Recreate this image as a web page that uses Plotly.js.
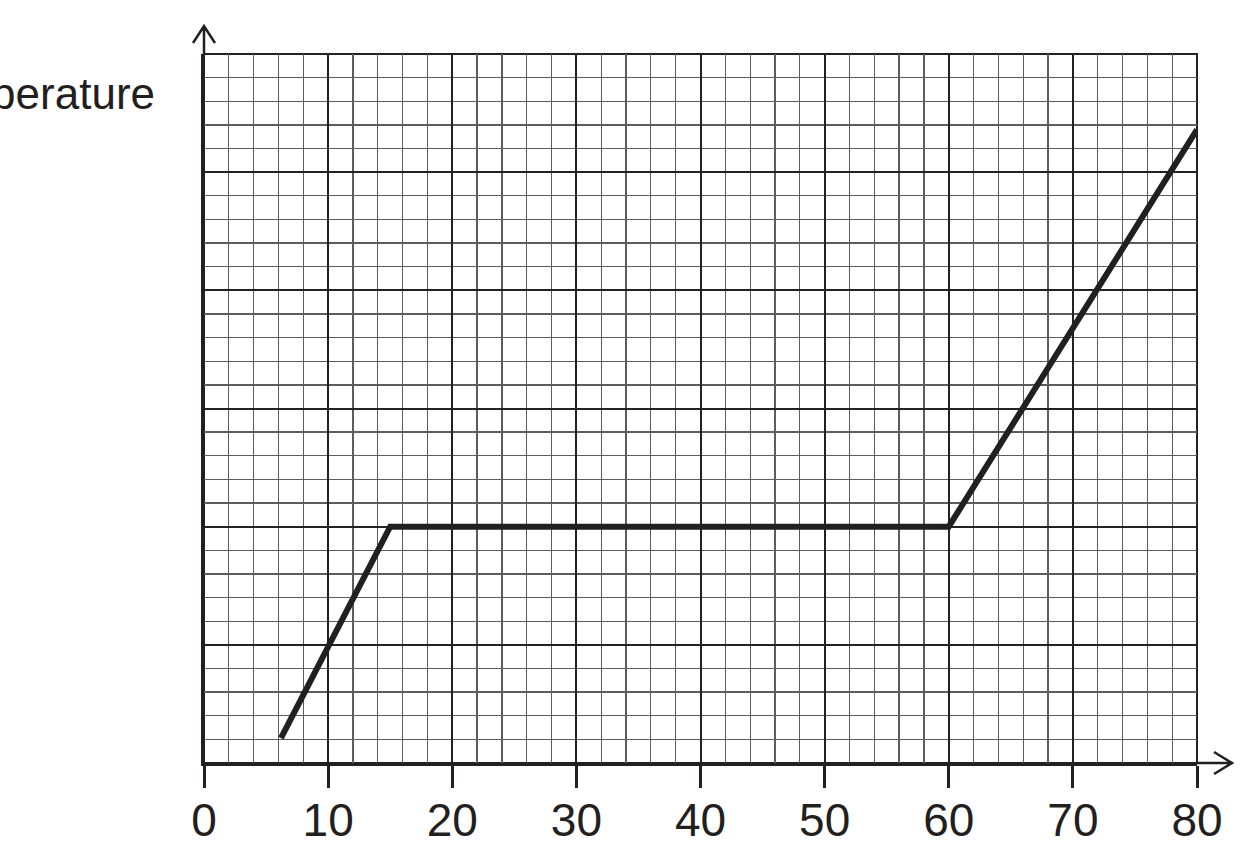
<!DOCTYPE html>
<html>
<head>
<meta charset="utf-8">
<script src="https://cdn.plot.ly/plotly-3.0.1.min.js"></script>
<style>html,body{margin:0;padding:0;background:#fff;}#chart{width:1258px;height:862px;}</style>
</head>
<body>
<div id="chart"></div>
<script>
// Data
const timeValues = [6.2, 15, 60, 80];
const temperatureValues = [1.05, 10, 10, 26.8];
const xTickValues = [0, 10, 20, 30, 40, 50, 60, 70, 80];
const xTickLabels = ["0", "10", "20", "30", "40", "50", "60", "70", "80"];
const yAxisLabel = "Temperature";

const ink = '#231f20';
const fontFamily = '"Liberation Sans", Arial, Helvetica, sans-serif';

const trace = {
  x: timeValues,
  y: temperatureValues,
  mode: 'lines',
  line: {color: ink, width: 6},
  hoverinfo: 'skip',
  showlegend: false
};

const layout = {
  width: 1258,
  height: 862,
  margin: {l: 204, r: 61, t: 54, b: 99, pad: 0},
  paper_bgcolor: '#fff',
  plot_bgcolor: '#fff',
  showlegend: false,
  xaxis: {
    range: [0, 80],
    tickmode: 'array',
    tickvals: xTickValues,
    ticktext: xTickLabels,
    showgrid: true,
    gridcolor: '#222',
    gridwidth: 2,
    minor: {dtick: 2, tick0: 0, showgrid: true, gridcolor: '#5c5c5c', gridwidth: 1.3, ticks: ''},
    ticks: 'outside',
    ticklen: 22,
    tickwidth: 3,
    tickcolor: ink,
    ticklabelstandoff: -7,
    showline: true,
    linewidth: 3,
    linecolor: ink,
    zeroline: false,
    tickfont: {family: fontFamily, size: 46, color: ink},
    fixedrange: true
  },
  yaxis: {
    range: [0, 30],
    dtick: 5,
    tick0: 0,
    showticklabels: false,
    ticks: '',
    showgrid: true,
    gridcolor: '#222',
    gridwidth: 2,
    minor: {dtick: 1, tick0: 0, showgrid: true, gridcolor: '#5c5c5c', gridwidth: 1.3, ticks: ''},
    showline: true,
    linewidth: 3,
    linecolor: ink,
    zeroline: false,
    fixedrange: true
  },
  shapes: [
    {
      type: 'rect', xref: 'paper', yref: 'paper',
      x0: 0, x1: 1, y0: 0, y1: 1,
      line: {color: '#222', width: 2},
      layer: 'below'
    },
    {
      type: 'path', xref: 'paper', yref: 'paper',
      xsizemode: 'pixel', ysizemode: 'pixel', xanchor: 0, yanchor: 1,
      path: 'M0,0 L0,28 M-11,11 L0,28 L11,11',
      line: {color: ink, width: 2.5}
    },
    {
      type: 'path', xref: 'paper', yref: 'paper',
      xsizemode: 'pixel', ysizemode: 'pixel', xanchor: 1, yanchor: 0,
      path: 'M0,0 L35,0 M17,11 L35,0 L17,-11',
      line: {color: ink, width: 2.5}
    }
  ],
  annotations: [
    {
      text: yAxisLabel,
      xref: 'paper', yref: 'paper',
      x: 0, y: 1,
      xanchor: 'right', yanchor: 'middle',
      xshift: -47, yshift: -39,
      showarrow: false,
      font: {family: fontFamily, size: 44, color: ink}
    }
  ]
};

Plotly.newPlot('chart', [trace], layout, {displayModeBar: false, staticPlot: true});
</script>
</body>
</html>
